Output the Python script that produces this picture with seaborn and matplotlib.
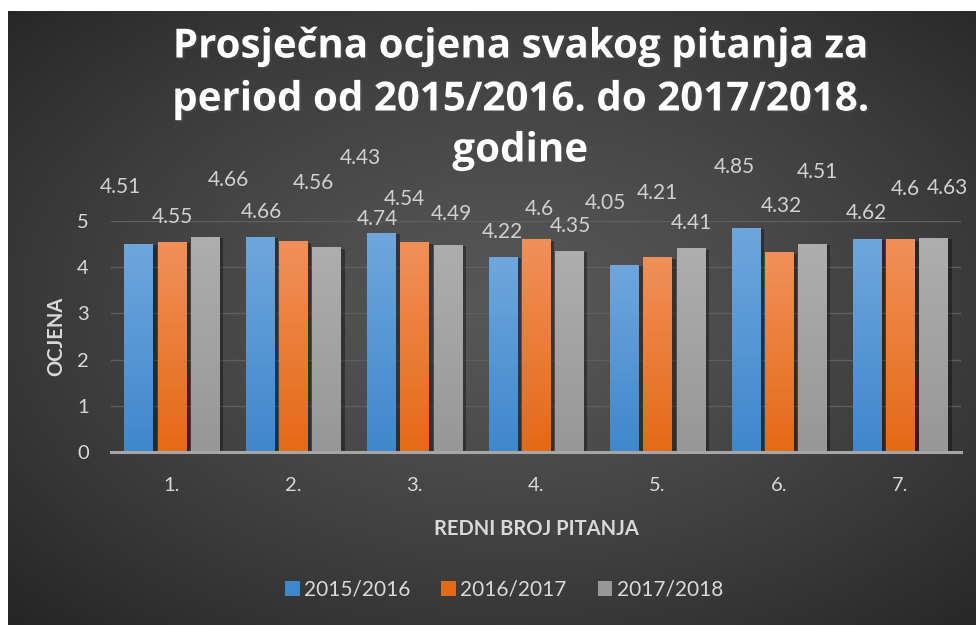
import numpy as np
import pandas as pd
import matplotlib
matplotlib.use("Agg")
import matplotlib.pyplot as plt
import matplotlib.patches as mpatches
import matplotlib.patheffects as pe
import seaborn as sns

# ---------------- data ----------------
questions = ["1.", "2.", "3.", "4.", "5.", "6.", "7."]
years = ["2015/2016", "2016/2017", "2017/2018"]
vals_2015_2016 = [4.51, 4.66, 4.74, 4.22, 4.05, 4.85, 4.62]
vals_2016_2017 = [4.55, 4.56, 4.54, 4.60, 4.21, 4.32, 4.60]
vals_2017_2018 = [4.66, 4.43, 4.49, 4.35, 4.41, 4.51, 4.63]
value_labels = [
    ["4.51", "4.66", "4.74", "4.22", "4.05", "4.85", "4.62"],
    ["4.55", "4.56", "4.54", "4.6", "4.21", "4.32", "4.6"],
    ["4.66", "4.43", "4.49", "4.35", "4.41", "4.51", "4.63"],
]
yticks = [0, 1, 2, 3, 4, 5]
title_lines = ["Prosječna ocjena svakog pitanja za",
               "period od 2015/2016. do 2017/2018.",
               "godine"]
xlabel = "REDNI BROJ PITANJA"
ylabel = "OCJENA"

# ---------------- style / layout ----------------
colors_top = ["#6FA7DC", "#F1905A", "#AEAEAE"]
colors_bot = ["#3F87CC", "#E46A15", "#979797"]
# manual label offsets (pixels) from bar top centre, per series, per category
label_offsets = [
    [(-18, 57), (1, 25), (-4, 14), (0, 25), (-19, 62), (-11, 61), (-1, 26)],
    [(1, 25), (20, 58), (-10, 43), (3, 30), (0, 64), (3, 46), (5, 50)],
    [(24, 57), (34, 89), (4, 31), (1, 25), (1, 25), (5, 72), (14, 50)],
]
title_y_px = [47, 100, 151]

df = pd.DataFrame({
    "question": questions * 3,
    "year": [years[0]] * 7 + [years[1]] * 7 + [years[2]] * 7,
    "value": vals_2015_2016 + vals_2016_2017 + vals_2017_2018,
})

W, H = 976, 625
fig = plt.figure(figsize=(W / 100, H / 100), dpi=100)
fig.patch.set_facecolor("white")

# radial gradient background
bg = fig.add_axes([8 / W, 0, 1 - 8 / W, 1 - 11 / H])
bg.set_axis_off()
yy, xx = np.mgrid[0:1:400j, 0:1:600j]
r = np.sqrt(((xx - 0.52) / 0.75) ** 2 + ((yy - 0.52) / 0.75) ** 2)
r = np.clip(r, 0, 1)
lum = 0.34 - 0.20 * r ** 1.3
img = np.dstack([lum, lum, lum])
bg.imshow(img, aspect="auto", extent=[0, 1, 0, 1], origin="lower")
bg.set_xlim(0, 1)
bg.set_ylim(0, 1)

ax = fig.add_axes([111 / W, 1 - 452 / H, (961 - 111) / W, (452 - 221) / H])
ax.set_facecolor("none")

sns.barplot(data=df, x="question", y="value", hue="year", hue_order=years,
            order=questions, palette=colors_bot, width=0.82, gap=0.15,
            ax=ax, legend=False, edgecolor="none")

ax.set_xlim(-0.5, 6.5)
ax.set_ylim(0, 5)

# gradient fill + shadow per bar, and data labels
for si, cont in enumerate(ax.containers):
    ctop = np.array(matplotlib.colors.to_rgb(colors_top[si]))
    cbot = np.array(matplotlib.colors.to_rgb(colors_bot[si]))
    grad = np.linspace(0, 1, 256)[:, None, None]
    gimg = cbot[None, None, :] * (1 - grad) + ctop[None, None, :] * grad
    for ci, bar in enumerate(cont.patches):
        x0, w, h = bar.get_x(), bar.get_width(), bar.get_height()
        bar.set_path_effects([pe.SimplePatchShadow(offset=(3, -1), shadow_rgbFace="black", alpha=0.35),
                              pe.Normal()])
        im = ax.imshow(gimg, extent=[x0, x0 + w, 0, h], origin="lower",
                       aspect="auto", zorder=bar.get_zorder() + 0.1)
        im.set_clip_path(bar)
        dx, dy = label_offsets[si][ci]
        ax.annotate(value_labels[si][ci], xy=(x0 + w / 2, h), xytext=(dx, dy),
                    textcoords="offset pixels", ha="center", va="center",
                    fontsize=15, color="#D0D0D0", family="Lato",
                    annotation_clip=False, zorder=10)

ax.set_xlim(-0.5, 6.5)
ax.set_ylim(0, 5)

# grid and spines
ax.set_yticks(yticks)
ax.yaxis.grid(True, color="#5E5E5E", linewidth=1.0)
ax.set_axisbelow(True)
for s in ["top", "right", "left"]:
    ax.spines[s].set_visible(False)
ax.spines["bottom"].set_color("#A6A6A6")
ax.spines["bottom"].set_linewidth(2.2)
ax.spines["bottom"].set_zorder(5)
ax.tick_params(axis="both", length=0, colors="#D9D9D9", labelsize=14.5)
ax.tick_params(axis="x", pad=18)
ax.tick_params(axis="y", pad=16)
for lab in ax.get_xticklabels() + ax.get_yticklabels():
    lab.set_family("Lato")

ax.set_xlabel(xlabel, fontsize=14.5, fontweight="bold", color="#D9D9D9",
              family="Lato", labelpad=18)
ax.set_ylabel(ylabel, fontsize=14.5, fontweight="bold", color="#D9D9D9",
              family="Lato", labelpad=8)

for line, ypx in zip(title_lines, title_y_px):
    fig.text(520 / W, 1 - ypx / H, line, ha="center", va="center",
             fontsize=29, fontweight="bold", color="white", family="Open Sans",
             path_effects=[pe.withSimplePatchShadow(offset=(1.5, -1.5), alpha=0.5)])

handles = [mpatches.Patch(facecolor=colors_bot[i], label=years[i]) for i in range(3)]
leg = fig.legend(handles=handles, loc="center", bbox_to_anchor=(504 / W, 1 - 590 / H),
                 ncol=3, frameon=False, fontsize=15, handlelength=0.7,
                 handleheight=0.7, handletextpad=0.2, columnspacing=1.5)
for t in leg.get_texts():
    t.set_color("#D9D9D9")
    t.set_family("Lato")

fig.savefig("out.png", dpi=100, facecolor=fig.get_facecolor())
